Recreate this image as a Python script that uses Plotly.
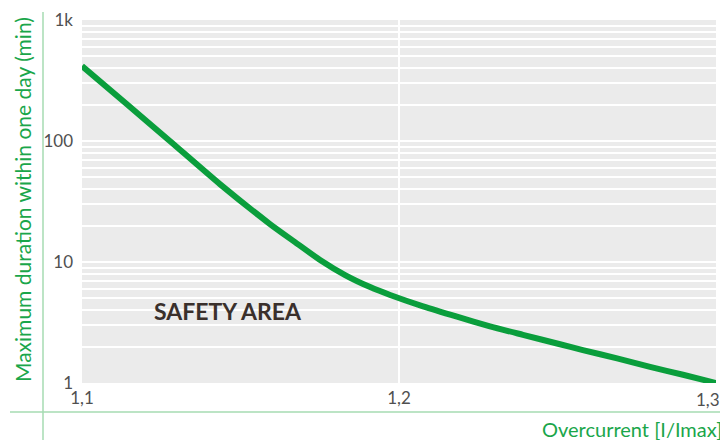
import plotly.graph_objects as go

# Data
overcurrent = [1.1000, 1.1139, 1.1278, 1.1435, 1.1593, 1.1672, 1.1751, 1.1830, 1.1909,
               1.1972, 1.2076, 1.2183, 1.2287, 1.2391, 1.2508, 1.2580, 1.2688, 1.2792,
               1.2896, 1.3000]
duration_min = [417, 204, 99.5, 44, 20.6, 14.6, 10.4, 7.8, 6.2,
                5.34, 4.30, 3.53, 2.94, 2.50, 2.09, 1.87, 1.60, 1.36,
                1.17, 1.0]

y_tickvals = [1, 10, 100, 1000]
y_ticktext = ["1", "10", "100", "1k"]
x_tickvals = [1.1, 1.2, 1.3]
x_ticktext = ["1,1", "1,2", "1,3"]
minor_vals = [m * d for d in (1, 10, 100) for m in range(2, 10)]

GREEN = "#0a9e3c"
TITLE_GREEN = "#1aa64a"
LIGHT_GREEN = "#a6dbb2"
TICK_GREY = "#505050"
FONT = "Lato"
TICK_SIZE = 17

fig = go.Figure()
fig.add_trace(go.Scatter(
    x=overcurrent, y=duration_min, mode="lines",
    line=dict(color=GREEN, width=6, shape="spline", smoothing=0.6),
    hoverinfo="skip", showlegend=False,
))

# page body has an 8px margin: figure is 720x432 placed at (8,8)
W, H = 720, 432
L, R, T, B = 74, 12, 12, 57
pw, ph = W - L - R, H - T - B
OFF = 8

def px(xp):  # reference-page pixel -> paper x
    return (xp - OFF - L) / pw

def py(yp):  # reference-page pixel -> paper y
    return (H - B - (yp - OFF)) / ph

# last x tick label sits at the figure edge: draw it right-aligned so it is not clipped
axis_ticktext = x_ticktext[:-1] + [""]

fig.update_layout(
    width=W, height=H,
    margin=dict(l=L, r=R, t=T, b=B),
    paper_bgcolor="white", plot_bgcolor="#ebebeb",
    font=dict(family=FONT, color="#444444", size=TICK_SIZE),
    xaxis=dict(
        range=[1.1, 1.3], tickvals=x_tickvals, ticktext=axis_ticktext,
        showgrid=True, gridcolor="white", gridwidth=1.5, automargin=False,
        zeroline=False, showline=False, ticks="", ticklabelstandoff=3,
        tickfont=dict(size=TICK_SIZE, color=TICK_GREY),
    ),
    yaxis=dict(
        type="log", range=[0, 3], tickvals=y_tickvals, ticktext=y_ticktext,
        showgrid=True, gridcolor="white", gridwidth=1.5, automargin=False,
        minor=dict(tickvals=minor_vals, showgrid=True, gridcolor="white", gridwidth=1.5, ticks=""),
        zeroline=False, showline=False, ticks="", ticklabelstandoff=8,
        tickfont=dict(size=TICK_SIZE, color=TICK_GREY),
    ),
    shapes=[
        dict(type="line", xref="paper", yref="paper", x0=px(43), x1=px(43), y0=py(12), y1=py(440),
             line=dict(color=LIGHT_GREEN, width=1.5)),
        dict(type="line", xref="paper", yref="paper", x0=px(10), x1=px(728), y0=py(412), y1=py(412),
             line=dict(color=LIGHT_GREEN, width=1.5)),
    ],
    annotations=[
        dict(text=x_ticktext[-1], xref="x", yref="paper",
             x=x_tickvals[-1], y=py(399), xanchor="right", yanchor="middle", xshift=6,
             showarrow=False, font=dict(family=FONT, size=TICK_SIZE, color=TICK_GREY)),
        dict(text="Maximum duration within one day (min)", xref="paper", yref="paper",
             x=px(22), y=py(200), xanchor="center", yanchor="middle", textangle=-90,
             showarrow=False, font=dict(family=FONT, size=21, color=TITLE_GREEN)),
        dict(text="Overcurrent [I/Imax]", xref="paper", yref="paper",
             x=px(724), y=py(429), xanchor="right", yanchor="middle",
             showarrow=False, font=dict(family=FONT, size=20, color=TITLE_GREEN)),
        dict(text="<b>SAFETY AREA</b>", xref="x", yref="y",
             x=1.146, y=0.595, xanchor="center", yanchor="middle",
             showarrow=False, font=dict(family=FONT, size=23, color="#3a302c")),
    ],
)

fig.write_html("out.html")
